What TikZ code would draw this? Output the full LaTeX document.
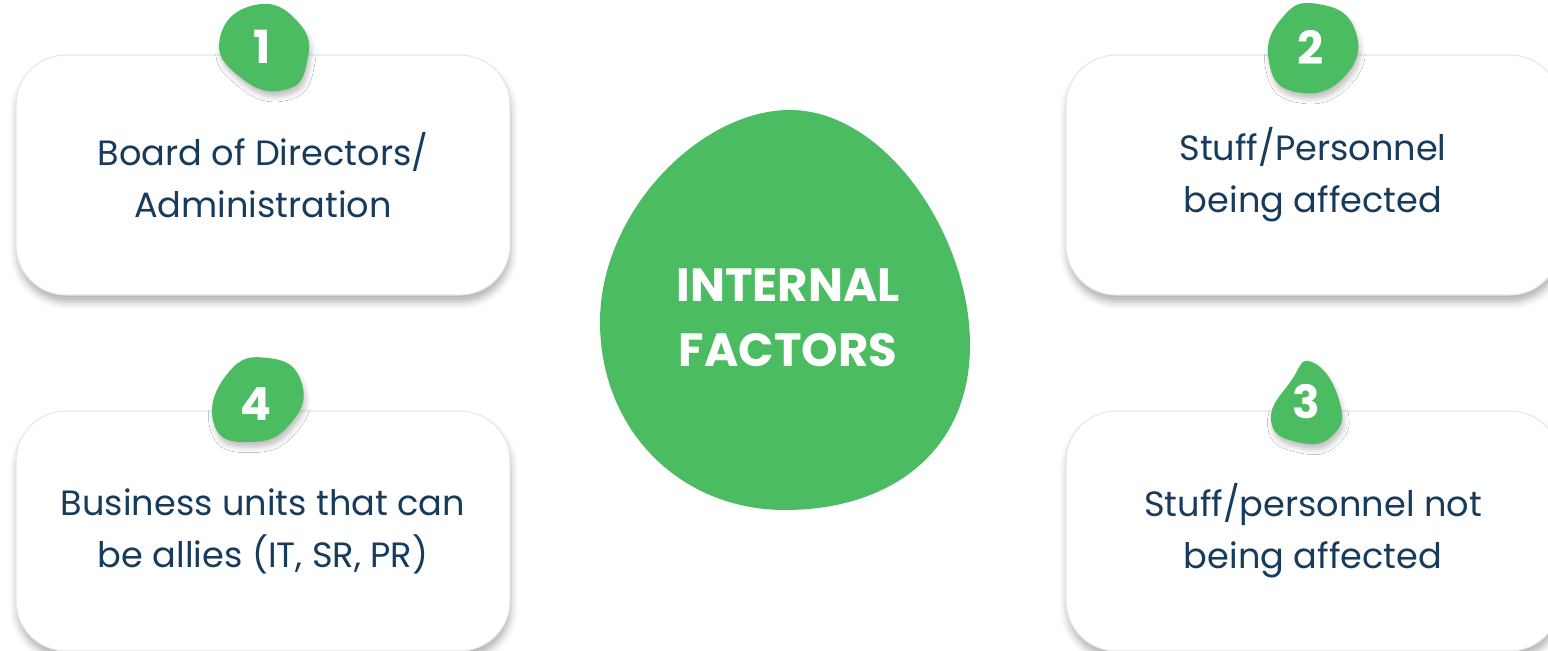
\documentclass[tikz,border=0pt]{standalone}
\usepackage{fontspec}
\setmainfont{Poppins}
\usepackage{tikz}
\usetikzlibrary{positioning, shadows.blur}

\definecolor{leafgreen}{HTML}{4CBC62}
\definecolor{inknavy}{HTML}{173B5C}
\definecolor{shadegray}{HTML}{8EA3B8}

\begin{document}
\begin{tikzpicture}[
x=0.02cm, y=-0.02cm,
node distance=2.3cm,
card/.style={rectangle, rounded corners=1cm, fill=white, draw=shadegray!25, line width=0.6pt,
  minimum width=9.88cm, minimum height=4.8cm, align=center, text=inknavy,
  font=\fontsize{20}{29.6}\selectfont,
  blur shadow={shadow xshift=0.5pt, shadow yshift=-4pt, shadow blur radius=4pt, shadow opacity=30}},
blob/.style={fill=leafgreen,
  blur shadow={shadow xshift=1pt, shadow yshift=-3pt, shadow blur radius=3pt, shadow opacity=25}},
badge/.style={text=white, font=\fontsize{26}{30}\selectfont\bfseries},
title/.style={text=white, align=center, font=\fontsize{26.5}{37}\selectfont\bfseries}
]
\useasboundingbox (0,0) rectangle (1548,651);

% cards
\node[card] (c1) at (263,175) {Board of Directors/\\Administration};
\node[card, below=of c1] (c4) {Business units that can\\be allies (IT, SR, PR)};
\node[card] (c2) at (1313,175) {Stuff/Personnel\\being affected};
\node[card, below=of c2] (c3) {Stuff/personnel not\\being affected};

% centre blob
\path[fill=leafgreen] (790,110) .. controls (885,110) and (970,235) .. (970,345)
  .. controls (970,452) and (890,510) .. (785,510)
  .. controls (680,510) and (600,430) .. (600,322)
  .. controls (600,212) and (700,110) .. (790,110) -- cycle;
\node[title] (core) at (788,318) {INTERNAL\\FACTORS};

% number blobs
\path[blob] plot[smooth cycle, tension=0.9] coordinates {(255,5) (298,22) (307,62) (284,90) (240,77) (220,38)};
\node[badge] (b1) at (262,47) {1};
\path[blob] plot[smooth cycle, tension=0.9] coordinates {(1318,4) (1355,30) (1344,77) (1296,92) (1269,62) (1282,18)};
\node[badge] (b2) at (1311,47) {2};
\path[blob] plot[smooth cycle, tension=0.9] coordinates {(1312,362) (1339,400) (1333,435) (1297,442) (1271,420) (1291,381)};
\node[badge] (b3) at (1306,402) {3};
\path[blob] plot[smooth cycle, tension=0.9] coordinates {(268,358) (301,381) (291,423) (250,442) (214,424) (228,373)};
\node[badge] (b4) at (256,404) {4};

\end{tikzpicture}
\end{document}
